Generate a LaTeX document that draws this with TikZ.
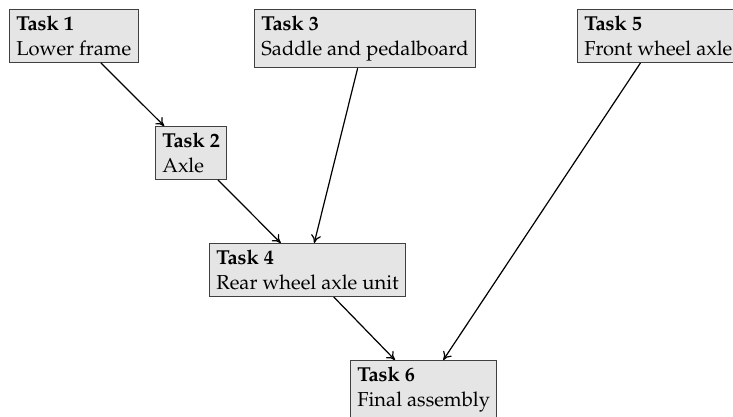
\documentclass[tikz,border=0pt]{standalone}
\usepackage[T1]{fontenc}
\usepackage{mathpazo}
\usetikzlibrary{arrows.meta}
\begin{document}
\begin{tikzpicture}[x=0.496pt, y=-0.496pt,
  task/.style={draw=black!75, fill=black!10, line width=0.5pt, align=left,
    anchor=north west, inner sep=3.4pt, font=\normalsize},
  link/.style={-{To[length=4pt,width=5pt]}, line width=0.6pt}]
  \useasboundingbox (0,0) rectangle (733,416);
  \clip (0,0) rectangle (733,416);
  % top row
  \node[task] (t1) at (9,9)    {\textbf{Task 1}\\Lower frame};
  \node[task] (t3) at (254,9)  {\textbf{Task 3}\\Saddle and pedalboard};
  \node[task] (t5) at (577,9)  {\textbf{Task 5}\\Front wheel axle};
  % lower levels
  \node[task] (t2) at (155,126) {\textbf{Task 2}\\Axle};
  \node[task] (t4) at (209,243) {\textbf{Task 4}\\Rear wheel axle unit};
  \node[task] (t6) at (350,360) {\textbf{Task 6}\\Final assembly};
  % dependencies
  \draw[link] (t1) -- (t2);
  \draw[link] (t2) -- (t4);
  \draw[link] (t3) -- (t4);
  \draw[link] (t4) -- (t6);
  \draw[link] (t5) -- (t6);
\end{tikzpicture}
\end{document}
